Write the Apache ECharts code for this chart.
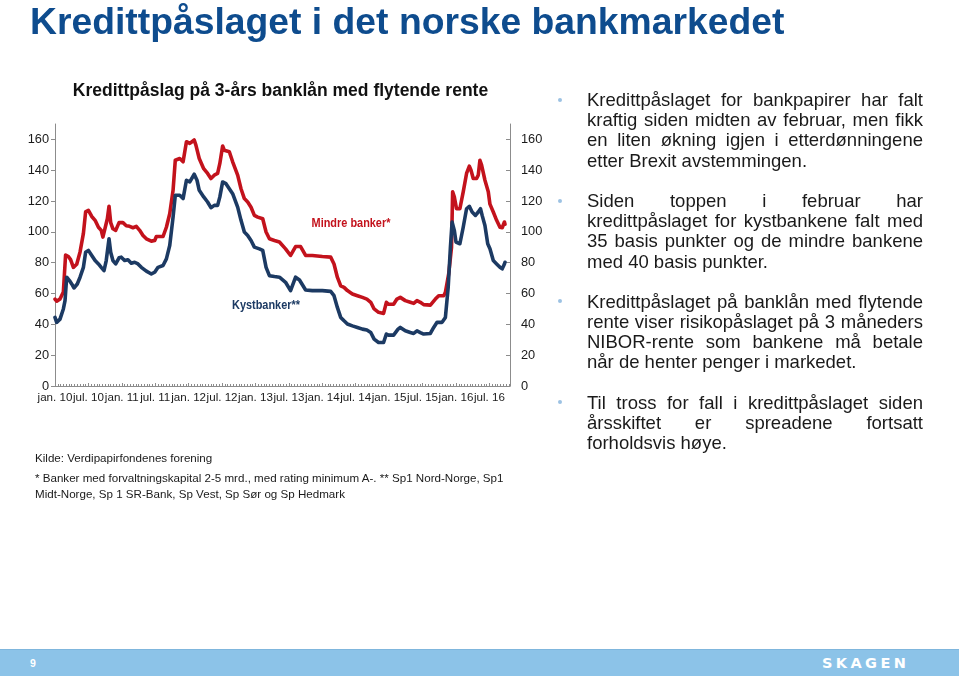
<!DOCTYPE html>
<html>
<head>
<meta charset="utf-8">
<script src="https://cdn.jsdelivr.net/npm/echarts@6/dist/echarts.min.js"></script>
<style>
  html, body { margin: 0; padding: 0; background: #fff; }
  #wrap { position: relative; width: 959px; height: 676px; overflow: hidden; font-family: Arial, "Liberation Sans", sans-serif; }
  #chart { position: absolute; left: 0; top: 0; width: 959px; height: 676px; }
  .abs { position: absolute; white-space: nowrap; }
  #title { left: 30px; top: 1px; font-size: 37.3px; font-weight: bold; color: #0E4C8E; line-height: 40px; }
  #bullets { left: 587px; top: 90px; width: 336px; font-size: 18.5px; color: #1a1a1a; }
  #bullets .ln { height: 20.2px; line-height: 20.2px; white-space: nowrap; text-align: justify; text-align-last: justify; }
  #bullets .ln.last { text-align: left; text-align-last: left; }
  #bullets .gap { height: 20.2px; }
  .dot { position: absolute; width: 4px; height: 4px; border-radius: 2px; background: #9CC2E3; }
  .note { left: 35px; font-size: 11.6px; color: #1a1a1a; line-height: 15.7px; }
  #bar { position: absolute; left: 0; top: 649px; width: 959px; height: 27px; background: #8CC3E8; border-top: 1px solid #7FB6DD; box-sizing: border-box; }
  #pg { position: absolute; left: 30px; top: 657px; color: #fff; font-size: 10.5px; font-weight: bold; }
  #logo { position: absolute; left: 822px; top: 655px; color: #fff; font-size: 14.5px; font-weight: bold; letter-spacing: 3.4px; font-family: "DejaVu Sans", sans-serif; }
</style>
</head>
<body>
<div id="wrap">
  <div id="chart"></div>
  <div id="title" class="abs">Kredittpåslaget i det norske bankmarkedet</div>

  <div class="dot" style="left:558px; top:98px;"></div>
  <div class="dot" style="left:558px; top:199px;"></div>
  <div class="dot" style="left:558px; top:299px;"></div>
  <div class="dot" style="left:558px; top:400px;"></div>
  <div id="bullets" class="abs">
    <div class="ln">Kredittpåslaget for bankpapirer har falt</div>
    <div class="ln">kraftig siden midten av februar, men fikk</div>
    <div class="ln">en liten økning igjen i etterdønningene</div>
    <div class="ln last">etter Brexit avstemmingen.</div>
    <div class="gap"></div>
    <div class="ln">Siden toppen i februar har</div>
    <div class="ln">kredittpåslaget for kystbankene falt med</div>
    <div class="ln">35 basis punkter og de mindre bankene</div>
    <div class="ln last">med 40 basis punkter.</div>
    <div class="gap"></div>
    <div class="ln">Kredittpåslaget på banklån med flytende</div>
    <div class="ln">rente viser risikopåslaget på 3 måneders</div>
    <div class="ln">NIBOR-rente som bankene må betale</div>
    <div class="ln last">når de henter penger i markedet.</div>
    <div class="gap"></div>
    <div class="ln">Til tross for fall i kredittpåslaget siden</div>
    <div class="ln">årsskiftet er spreadene fortsatt</div>
    <div class="ln last">forholdsvis høye.</div>
  </div>

  <div class="abs note" style="top:450px;">Kilde: Verdipapirfondenes forening</div>
  <div class="abs note" style="top:470px;">* Banker med forvaltningskapital 2-5 mrd., med rating minimum A-. ** Sp1 Nord-Norge, Sp1<br>Midt-Norge, Sp 1 SR-Bank, Sp Vest, Sp Sør og Sp Hedmark</div>

  <div id="bar"></div>
  <div id="pg">9</div>
  <div id="logo">SKAGEN</div>
</div>
<script>
// Months since January 2010 (x positions of readings)
const redT = [0,0.3,0.9,1.5,1.9,2.4,2.8,3.3,3.9,4.5,
  5.1,5.5,6.0,6.6,7.2,7.8,8.3,8.6,8.9,9.4,
  9.7,10.0,10.4,10.9,11.5,12.2,12.8,13.4,14.0,14.6,
  15.2,15.8,16.4,17.3,17.9,18.2,19.4,20.0,20.6,21.2,
  21.6,22.4,23.0,23.6,24.2,24.6,25.0,25.3,25.9,26.7,
  27.4,28.0,28.6,29.2,29.6,30.1,30.4,30.7,31.3,31.9,
  32.8,33.4,34.0,34.6,35.2,35.8,36.4,37.3,37.9,38.5,
  39.4,40.3,41.4,42.3,43.2,44.1,45.0,46.2,48.0,49.5,
  50.1,50.7,51.3,51.9,52.5,53.4,54.3,55.2,56.0,56.7,
  57.3,58.1,59.0,59.5,59.9,60.8,61.4,62.0,62.9,63.8,
  64.4,65.0,65.6,66.2,67.4,68.3,68.9,69.8,70.1,70.7,
  71.2,71.4,71.7,72.1,72.7,73.3,73.9,74.4,74.7,75.1,
  75.7,76.0,76.3,76.6,77.2,77.8,78.1,78.7,79.3,79.9,
  80.3,80.7,80.8];
// Mindre banker* (basis points)
const redV = [56.4,55,56.5,61,85,84,82,77,79,87,
  99,113,114,110,107.5,103,101,96.6,97.7,108.5,
  116.6,106,102,101,106,106,104,103.6,102.7,103.6,
  101,97.7,95.5,94,94.4,97,97,103,111.8,127,
  146.5,147.6,145.5,158.5,157.4,158.5,159.6,156.3,147.6,141,
  137.9,134.6,136.8,137.9,144.4,155.7,153,154,152,145.5,
  136.8,128,121.6,119.4,116,110.7,109.6,108.5,99.9,95.5,
  94.4,93.4,89,84.7,90.5,90.5,84.7,84.7,84,83.6,
  79.2,70.6,65,64,61.9,59.7,58.6,57.5,56.4,54.3,
  50,47.8,47.1,54.3,53,53,56.4,57.5,55.4,54.3,
  53.6,55.4,54.3,52.8,52.5,56.4,58.6,58.6,60.8,72.9,
  90,126,122.7,115,115,126,137.9,142.6,140,134.6,
  134.6,136.8,146.5,143.3,133.5,126,118,112.9,107.5,103,
  102.7,106.4,105];

const blueT = [0,0.3,0.9,1.5,1.8,2.1,2.6,3.0,3.4,4.0,
  4.5,5.1,5.5,6.0,6.6,7.2,7.8,8.3,8.8,9.2,
  9.7,10.0,10.4,10.9,11.5,11.9,12.5,13.1,13.7,14.3,
  14.9,15.5,16.4,17.3,17.9,18.5,19.4,20.0,20.6,21.2,
  21.6,22.4,23.0,23.6,24.2,24.4,25.0,25.5,25.9,26.7,
  27.4,28.0,28.6,29.2,29.6,30.1,30.7,31.3,31.9,32.8,
  33.4,34.0,34.6,35.2,35.8,36.7,37.3,37.9,38.5,39.4,
  40.3,41.4,42.3,43.2,43.9,45.0,46.2,48.0,49.5,50.1,
  50.7,51.3,51.9,52.5,53.4,54.3,55.2,56.0,56.7,57.3,
  58.1,59.0,59.5,59.9,60.8,61.6,62.0,62.9,63.8,64.4,
  65.0,65.6,66.2,67.4,68.0,68.6,69.5,70.1,70.6,71.0,
  71.3,71.7,72.0,72.7,73.3,73.9,74.4,74.9,75.5,76.0,
  76.4,76.7,77.2,77.7,78.1,78.7,79.3,79.9,80.3,80.7,
  80.8];
// Kystbanker** (basis points)
const blueV = [44.5,41.3,43.4,50,55.4,70.6,68.4,66.2,63.6,66.2,
  70.6,77,86.8,88,84.7,81.4,79.2,77,74.9,81.4,
  95.5,86.8,81.4,79.2,83.2,83.6,81.4,81.9,79.7,80.3,
  79.2,77,74.5,72.7,73.8,77,78.2,82.5,91.2,109.6,
  123.8,123.8,121.6,133.5,132.4,131.3,137.4,133.5,127,122.7,
  119.4,115.7,117.2,117.2,122.7,132.4,131.3,128,124.8,116.1,
  107.5,99.9,97.7,94.4,90.1,89,88,77,71.6,71,
  70.6,67.3,61.9,70.6,68.8,62.3,61.9,61.9,61.4,58.6,
  51,44.5,42.3,40.2,39,38,36.9,36.3,34.7,30.4,
  28.2,28.2,33.7,33,33,36.9,38,35.8,34.7,34.1,
  35.8,34.7,33.7,34.1,38,41.3,41.3,44.5,64,90,
  106.4,101,93.4,92.3,103,115,116.6,112.9,110.7,112.9,
  115,110.7,104.2,92.3,89,81.4,79.2,77,76,79.2,
  80.3];

// Axis tick labels
const xLabelPos = [0,6,12,18,24,30,36,42,48,54,60,66,72,78];
const xLabels = ['jan. 10','jul. 10','jan. 11','jul. 11','jan. 12','jul. 12','jan. 13','jul. 13','jan. 14','jul. 14','jan. 15','jul. 15','jan. 16','jul. 16'];
const yTicks = [0,20,40,60,80,100,120,140,160];

const chartTitle = 'Kredittpåslag på 3-års banklån med flytende rente';
const redName = 'Mindre banker*';
const blueName = 'Kystbanker**';

const RED = '#C3121C';
const BLUE = '#1C3A63';
const TXT = '#1a1a1a';
const AXIS = '#8c8c8c';
const FONT = 'Arial, Liberation Sans, sans-serif';

const chart = echarts.init(document.getElementById('chart'), null, { renderer: 'canvas' });

const pair = (T, V) => T.map((t, i) => [t, V[i]]);

const yAxisCommon = {
  type: 'value', min: 0, max: 170, interval: 20,
  splitLine: { show: false },
  axisLine: { show: true, lineStyle: { color: AXIS, width: 1 } },
  axisTick: { show: true, length: 4, customValues: yTicks, lineStyle: { color: AXIS } },
  axisLabel: { customValues: yTicks, color: TXT, fontSize: 12.8, fontFamily: FONT }
};

chart.setOption({
  animation: false,
  backgroundColor: 'transparent',
  grid: { left: 55, right: 449, top: 124, bottom: 290, containLabel: false },
  xAxis: {
    type: 'value', min: 0, max: 81.7, interval: 6,
    splitLine: { show: false },
    axisLine: { show: true, lineStyle: { color: AXIS, width: 1 } },
    axisTick: { show: true, inside: true, length: 3, lineStyle: { color: AXIS } },
    minorTick: { show: true, splitNumber: 12, length: 2, lineStyle: { color: AXIS } },
    axisLabel: {
      customValues: xLabelPos,
      margin: 6,
      color: TXT, fontSize: 11.6, fontFamily: FONT,
      formatter: v => xLabels[xLabelPos.indexOf(Math.round(v))] || ''
    }
  },
  yAxis: [
    Object.assign({}, yAxisCommon, { position: 'left', axisLabel: Object.assign({}, yAxisCommon.axisLabel, { margin: 6 }) }),
    Object.assign({}, yAxisCommon, { position: 'right', axisTick: Object.assign({}, yAxisCommon.axisTick, { inside: true }), axisLabel: Object.assign({}, yAxisCommon.axisLabel, { margin: 11 }) })
  ],
  series: [
    { name: redName, type: 'line', data: pair(redT, redV), showSymbol: false, symbol: 'none',
      lineStyle: { color: RED, width: 3.6, join: 'round', cap: 'round' }, itemStyle: { color: RED }, z: 3 },
    { name: blueName, type: 'line', data: pair(blueT, blueV), showSymbol: false, symbol: 'none',
      lineStyle: { color: BLUE, width: 3.6, join: 'round', cap: 'round' }, itemStyle: { color: BLUE }, z: 4 }
  ],
  graphic: [
    { type: 'text', x: 280.5, y: 91, style: { text: chartTitle, font: 'bold 17.5px ' + FONT, fill: '#111', textAlign: 'center', textVerticalAlign: 'middle' } },
    { type: 'text', x: 351, y: 223, scaleX: 0.84, style: { text: redName, font: 'bold 13px ' + FONT, fill: RED, textAlign: 'center', textVerticalAlign: 'middle' } },
    { type: 'text', x: 266, y: 305, scaleX: 0.84, style: { text: blueName, font: 'bold 13px ' + FONT, fill: BLUE, textAlign: 'center', textVerticalAlign: 'middle' } }
  ]
});
</script>
</body>
</html>
